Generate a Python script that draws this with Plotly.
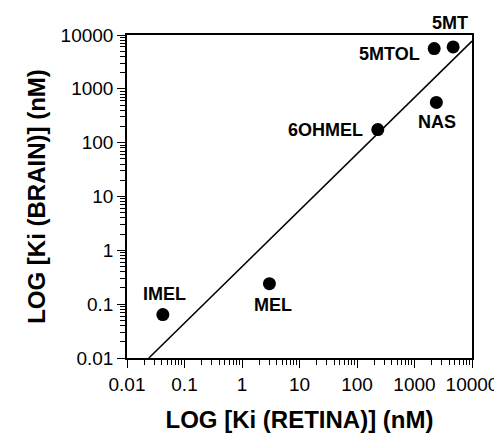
import math
import plotly.graph_objects as go

# Data
compounds = ["5MT", "5MTOL", "NAS", "6OHMEL", "MEL", "IMEL"]
ki_retina = [4700, 2200, 2400, 230, 3.0, 0.042]
ki_brain = [6000, 5600, 560, 175, 0.24, 0.064]

# Regression line end points
fit_x = [0.024, 10000]
fit_y = [0.01, 7700]

tick_vals = [0.01, 0.1, 1, 10, 100, 1000, 10000]
tick_text = ["0.01", "0.1", "1", "10", "100", "1000", "10000"]

# label placement styles (anchor, x shift px, y shift px)
label_style = {
    "5MT": ("center", -3, 24),
    "5MTOL": ("right", -12, -5),
    "NAS": ("center", 1, -20),
    "6OHMEL": ("right", -13, 0),
    "MEL": ("center", 4, -21),
    "IMEL": ("center", 2, 21),
}

FONT = "Liberation Sans, Arial, sans-serif"

minor_vals = [m * 10 ** e for e in range(-2, 4) for m in range(2, 10)]

fig = go.Figure()
fig.add_trace(go.Scatter(
    x=fit_x, y=fit_y, mode="lines",
    line=dict(color="black", width=1.5),
    showlegend=False, hoverinfo="skip",
))
fig.add_trace(go.Scatter(
    x=ki_retina, y=ki_brain, mode="markers",
    marker=dict(color="black", size=13),
    showlegend=False, cliponaxis=False,
))

# annotations on log axes take log10 coordinates
for name, xv, yv in zip(compounds, ki_retina, ki_brain):
    anchor, dx, dy = label_style[name]
    fig.add_annotation(
        x=math.log10(xv), y=math.log10(yv), xref="x", yref="y",
        text="<b>%s</b>" % name, showarrow=False,
        xanchor=anchor, yanchor="middle", xshift=dx, yshift=dy,
        font=dict(family=FONT, size=18, color="black"),
    )

axis_common = dict(
    type="log",
    tickmode="array", tickvals=tick_vals, ticktext=tick_text,
    ticks="outside", ticklen=8, tickwidth=1.3, tickcolor="black",
    showgrid=False, zeroline=False,
    showline=True, linecolor="black", linewidth=1.5, mirror=True,
    tickfont=dict(family=FONT, size=19, color="black"),
    minor=dict(tickmode="array", tickvals=minor_vals,
               ticks="outside", ticklen=5, tickwidth=1.2, tickcolor="black",
               showgrid=False),
)

fig.update_layout(
    xaxis=dict(
        range=[-2, 4],
        title=dict(text="<b>LOG [Ki (RETINA)] (nM)</b>",
                   font=dict(family=FONT, size=24, color="black"), standoff=18),
        **axis_common,
    ),
    yaxis=dict(
        range=[-2, 4],
        title=dict(text="<b>LOG [Ki (BRAIN)] (nM)</b>",
                   font=dict(family=FONT, size=24, color="black"), standoff=8),
        **axis_common,
    ),
    width=502, height=433,
    margin=dict(l=119, r=34, t=27, b=79),
    paper_bgcolor="white", plot_bgcolor="white",
    font=dict(family=FONT, color="black"),
)

fig.write_html("out.html")
